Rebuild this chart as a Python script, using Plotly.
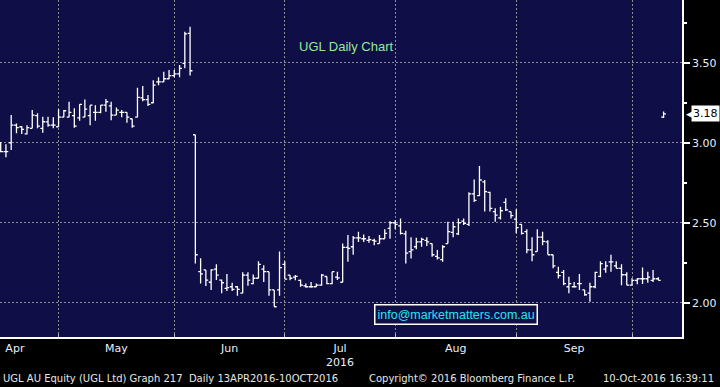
import pandas as pd
import plotly.graph_objects as go

# ---------------- data ----------------
holidays = ["2016-04-25", "2016-06-13"]
dates = [d for d in pd.bdate_range("2016-04-13", "2016-10-10") if d.strftime("%Y-%m-%d") not in holidays]
date_labels = [d.strftime("%d-%b-%Y") for d in dates]

open_ = [2.99, 2.944, 3.0, 3.11, 3.10, 3.055, 3.09, 3.17, 3.09, 3.13,
         3.11, 3.10, 3.16, 3.16, 3.17, 3.155, 3.16, 3.17, 3.19, 3.19,
         3.235, 3.23, 3.173, 3.19, 3.19, 3.15, 3.16, 3.28, 3.27, 3.25,
         3.38, 3.38, 3.40, 3.42, 3.43, 3.496, 3.684, 3.05, 2.194, 2.205,
         2.128, 2.21, 2.142, 2.09, 2.10, 2.10, 2.06, 2.173, 2.12, 2.153,
         2.21, 2.194, 2.08, 2.08, 2.24, 2.173, 2.16, 2.14, 2.105, 2.10,
         2.10, 2.11, 2.164, 2.12, 2.16, 2.128, 2.346, 2.35, 2.406, 2.40,
         2.39, 2.39, 2.37, 2.40, 2.465, 2.50, 2.48, 2.43, 2.32, 2.35,
         2.38, 2.39, 2.37, 2.29, 2.27, 2.37, 2.44, 2.43, 2.51, 2.49,
         2.68, 2.67, 2.756, 2.69, 2.57, 2.53, 2.627, 2.57, 2.523, 2.49,
         2.444, 2.33, 2.32, 2.41, 2.38, 2.30, 2.19, 2.19, 2.10, 2.10,
         2.12, 2.08, 2.06, 2.10, 2.165, 2.21, 2.255, 2.23, 2.215, 2.175,
         2.11, 2.14, 2.15, 2.15, 2.14, 2.15, 3.16]
high = [3.005, 2.99, 3.173, 3.12, 3.104, 3.11, 3.204, 3.184, 3.163, 3.163,
        3.16, 3.21, 3.204, 3.256, 3.215, 3.24, 3.27, 3.235, 3.235, 3.235,
        3.273, 3.256, 3.22, 3.204, 3.19, 3.15, 3.344, 3.354, 3.298, 3.39,
        3.41, 3.444, 3.454, 3.454, 3.486, 3.694, 3.725, 3.05, 2.278, 2.205,
        2.21, 2.24, 2.146, 2.18, 2.125, 2.104, 2.19, 2.19, 2.177, 2.26,
        2.235, 2.194, 2.08, 2.32, 2.26, 2.173, 2.173, 2.146, 2.12, 2.13,
        2.12, 2.18, 2.164, 2.194, 2.194, 2.37, 2.423, 2.417, 2.444, 2.427,
        2.417, 2.40, 2.423, 2.46, 2.51, 2.517, 2.527, 2.45, 2.41, 2.406,
        2.406, 2.41, 2.37, 2.33, 2.36, 2.506, 2.506, 2.527, 2.527, 2.69,
        2.77, 2.854, 2.767, 2.694, 2.59, 2.60, 2.653, 2.57, 2.584, 2.49,
        2.46, 2.41, 2.46, 2.444, 2.39, 2.30, 2.225, 2.204, 2.163, 2.13,
        2.18, 2.08, 2.125, 2.194, 2.26, 2.26, 2.30, 2.26, 2.24, 2.19,
        2.153, 2.153, 2.22, 2.194, 2.204, 2.16, 3.195]
low = [2.94, 2.91, 2.954, 3.06, 3.054, 3.052, 3.09, 3.09, 3.062, 3.10,
       3.09, 3.10, 3.16, 3.16, 3.094, 3.137, 3.16, 3.11, 3.137, 3.184,
       3.194, 3.14, 3.173, 3.16, 3.125, 3.094, 3.16, 3.26, 3.23, 3.246,
       3.36, 3.38, 3.396, 3.41, 3.41, 3.465, 3.42, 2.246, 2.121, 2.104,
       2.08, 2.142, 2.06, 2.073, 2.073, 2.044, 2.06, 2.106, 2.115, 2.153,
       2.13, 2.044, 1.975, 2.044, 2.148, 2.14, 2.14, 2.10, 2.094, 2.094,
       2.10, 2.106, 2.115, 2.115, 2.142, 2.128, 2.256, 2.30, 2.38, 2.38,
       2.375, 2.36, 2.37, 2.40, 2.40, 2.46, 2.427, 2.246, 2.277, 2.334,
       2.35, 2.354, 2.287, 2.27, 2.256, 2.37, 2.41, 2.423, 2.486, 2.48,
       2.63, 2.667, 2.57, 2.57, 2.506, 2.52, 2.573, 2.527, 2.434, 2.427,
       2.31, 2.26, 2.32, 2.36, 2.30, 2.215, 2.152, 2.11, 2.06, 2.096,
       2.08, 2.044, 2.006, 2.09, 2.16, 2.188, 2.194, 2.215, 2.11, 2.11,
       2.11, 2.115, 2.117, 2.125, 2.13, 2.14, 3.155]
close = [2.944, 2.944, 3.11, 3.094, 3.084, 3.094, 3.173, 3.104, 3.131, 3.11,
         3.11, 3.16, 3.20, 3.19, 3.104, 3.24, 3.21, 3.235, 3.19, 3.235,
         3.256, 3.173, 3.204, 3.19, 3.16, 3.104, 3.284, 3.27, 3.24, 3.36,
         3.38, 3.40, 3.42, 3.43, 3.465, 3.68, 3.45, 2.30, 2.18, 2.142,
         2.205, 2.173, 2.125, 2.094, 2.083, 2.083, 2.173, 2.142, 2.153, 2.24,
         2.194, 2.08, 1.975, 2.22, 2.148, 2.153, 2.165, 2.11, 2.10, 2.10,
         2.11, 2.173, 2.12, 2.194, 2.155, 2.346, 2.34, 2.406, 2.406, 2.40,
         2.395, 2.385, 2.40, 2.434, 2.50, 2.49, 2.434, 2.31, 2.33, 2.38,
         2.396, 2.38, 2.30, 2.28, 2.35, 2.444, 2.475, 2.50, 2.496, 2.68,
         2.64, 2.767, 2.694, 2.59, 2.548, 2.575, 2.58, 2.544, 2.47, 2.434,
         2.33, 2.30, 2.41, 2.384, 2.30, 2.23, 2.17, 2.12, 2.12, 2.10,
         2.12, 2.05, 2.10, 2.19, 2.245, 2.23, 2.255, 2.215, 2.175, 2.11,
         2.14, 2.15, 2.15, 2.16, 2.15, 2.14, 3.18]

price_ticks = [2.0, 2.5, 3.0, 3.5]
minor_price_ticks = [2.25, 2.75, 3.25, 3.75]
month_names = ["Apr", "May", "Jun", "Jul<br>2016", "Aug", "Sep"]
last_price = close[-1]

# ---------------- derived positions ----------------
idx = list(range(len(dates)))
month_end_idx = [i for i in range(len(dates) - 1) if dates[i].month != dates[i + 1].month]
label_pos = [2.7] + [(a + b) / 2 for a, b in zip(month_end_idx[:-1], month_end_idx[1:])]

NAVY = "#100e46"
GRID = "#8c8c8c"
TXT = "#e8eeff"
FONT = "DejaVu Sans"

fig = go.Figure()
fig.add_trace(go.Ohlc(
    x=idx, open=open_, high=high, low=low, close=close,
    customdata=date_labels,
    increasing=dict(line=dict(color="white", width=1.3)),
    decreasing=dict(line=dict(color="white", width=1.3)),
    tickwidth=0.45, showlegend=False, hoverinfo="all",
))

fig.update_layout(
    width=720, height=387,
    margin=dict(l=0, r=38, t=0, b=50),
    paper_bgcolor="black", plot_bgcolor=NAVY,
    showlegend=False,
    xaxis=dict(
        range=[-0.13, 129.5], rangeslider=dict(visible=False),
        tickvals=label_pos, ticktext=month_names, ticks="",
        showgrid=False, zeroline=False,
        showline=True, linecolor="white", linewidth=1.5,
        tickfont=dict(family=FONT, size=11, color=TXT),
        minor=dict(tickvals=month_end_idx, showgrid=True, gridcolor=GRID,
                   griddash="2px,2px", gridwidth=1, ticks="inside",
                   ticklen=3, tickcolor="#bbbbbb"),
    ),
    yaxis=dict(
        side="right", range=[1.786, 3.892],
        tickvals=price_ticks, tickformat=".2f",
        showgrid=True, gridcolor=GRID, griddash="2px,2px", gridwidth=1,
        zeroline=False, showline=True, linecolor="white", linewidth=1.5,
        ticks="outside", ticklen=6, tickwidth=2, tickcolor="white",
        tickfont=dict(family=FONT, size=11, color=TXT),
        minor=dict(tickvals=minor_price_ticks, ticks="outside", ticklen=3,
                   tickcolor="white", showgrid=False),
    ),
)

annotations = [
    dict(text="UGL Daily Chart", xref="paper", yref="paper", x=0.508, y=0.8635,
         xanchor="center", yanchor="middle", showarrow=False,
         font=dict(family="Liberation Sans", size=13, color="#92ea92")),
    dict(text="info@marketmatters.com.au", xref="paper", yref="paper", x=0.6686, y=0.068,
         xanchor="center", yanchor="middle", showarrow=False,
         font=dict(family="Liberation Sans", size=12.5, color="#22e6f4"),
         bordercolor="white", borderwidth=1.5, borderpad=2, bgcolor=NAVY),
    dict(text="%.2f" % last_price, xref="paper", yref="y", x=1, y=last_price,
         xanchor="left", yanchor="middle", xshift=9, showarrow=False,
         font=dict(family=FONT, size=11, color="black"),
         bgcolor="white", borderpad=1),
    dict(text="◀", xref="paper", yref="y", x=1, y=last_price,
         xanchor="left", yanchor="middle", xshift=2, showarrow=False,
         font=dict(family=FONT, size=9, color="white")),
    dict(text="UGL AU Equity (UGL Ltd) Graph 217  Daily 13APR2016-10OCT2016",
         xref="paper", yref="paper", x=0, y=-0.1246, xanchor="left", yanchor="middle",
         xshift=1, showarrow=False, font=dict(family=FONT, size=10, color="#e6e6e6")),
    dict(text="Copyright© 2016 Bloomberg Finance L.P.",
         xref="paper", yref="paper", x=0.538, y=-0.1246, xanchor="left", yanchor="middle",
         showarrow=False, font=dict(family=FONT, size=10, color="#e6e6e6")),
    dict(text="10-Oct-2016 16:39:11",
         xref="paper", yref="paper", x=1.0499, y=-0.1246, xanchor="right", yanchor="middle",
         showarrow=False, font=dict(family=FONT, size=10, color="#e6e6e6")),
]
fig.update_layout(annotations=annotations)

fig.write_html("out.html", config={"displayModeBar": False},
               post_script="document.body.style.margin='0';document.body.style.background='black';")
